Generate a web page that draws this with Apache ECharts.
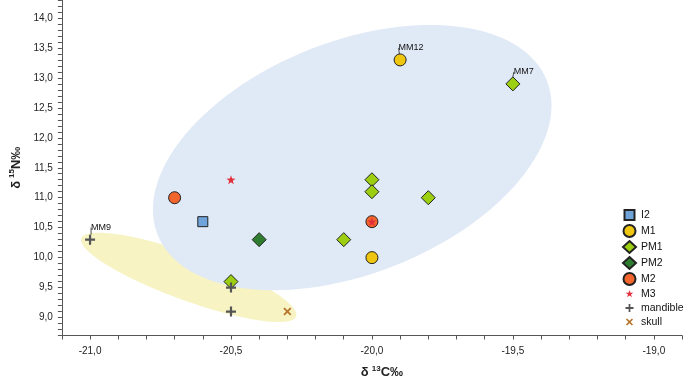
<!DOCTYPE html>
<html>
<head>
<meta charset="utf-8">
<style>
  html, body { margin: 0; padding: 0; background: #fff; }
  #chart { width: 685px; height: 384px; }
</style>
<script src="https://cdn.jsdelivr.net/npm/echarts/dist/echarts.min.js"></script>
</head>
<body>
<div id="chart"></div>
<script>
// 各组数据 [δ13C, δ15N]
var i2 = [[-20.6, 10.6]];
var m1 = [[-19.9, 13.3], [-20.0, 10.0]];
var m1Names = ['MM12', ''];
var pm1 = [[-19.5, 12.9], [-20.0, 11.3], [-20.0, 11.1], [-19.8, 11.0], [-20.1, 10.3], [-20.5, 9.6]];
var pm1Names = ['MM7', '', '', '', '', ''];
var pm2 = [[-20.4, 10.3]];
var m2 = [[-20.7, 11.0], [-20.0, 10.6]];
var m3 = [[-20.5, 11.3], [-20.0, 10.6]];
var mandible = [[-21.0, 10.3], [-20.5, 9.5], [-20.5, 9.1]];
var mandibleNames = ['MM9', '', ''];
var skull = [[-20.3, 9.1]];
// 椭圆区域: 中心x, 中心y, 共轭半径1(x,y), 共轭半径2(x,y)
var ellipseYellow = [-20.65, 9.67, 0.382, -0.623, 0, 0.41];
var ellipseBlue = [-20.07, 11.67, 0.707, 0.869, 0, 2.036];

var FONT = '"Liberation Sans", Arial, sans-serif';
var starPath = 'M10,0L12.35,6.76L19.51,6.91L13.8,11.24L15.88,18.09L10,14L4.12,18.09L6.2,11.24L0.49,6.91L7.65,6.76Z';
var plusPath = 'M3.9,0H6.1V3.9H10V6.1H6.1V10H3.9V6.1H0V3.9H3.9Z';
var crossPath = 'M0,1.6L1.6,0L5,3.4L8.4,0L10,1.6L6.6,5L10,8.4L8.4,10L5,6.6L1.6,10L0,8.4L3.4,5Z';

var myChart = echarts.init(document.getElementById('chart'));

//画椭圆
function ellipseItem(params, api) {
  var cx = api.value(0), cy = api.value(1);
  var ux = api.value(2), uy = api.value(3), vx = api.value(4), vy = api.value(5);
  var pts = [];
  for (var k = 0; k < 120; k++) {
    var t = k / 120 * Math.PI * 2;
    pts.push(api.coord([cx + ux * Math.cos(t) + vx * Math.sin(t), cy + uy * Math.cos(t) + vy * Math.sin(t)]));
  }
  return {
    type: 'polygon',
    shape: { points: pts },
    style: { fill: api.visual('color') }
  };
}

//刻度标签, 只显示0.5的倍数
function tickLabel(v) {
  var r = Math.round(v * 10);
  if (r % 5 !== 0) return '';
  return (r / 10).toFixed(1).replace('.', ',');
}

function pointLabel(names) {
  return {
    show: true,
    position: 'inside',
    fontSize: 9,
    fontFamily: FONT,
    color: '#111',
    formatter: function (p) { return names[p.dataIndex]; }
  };
}

function scatter(name, data, symbol, size, color, border, z) {
  return {
    name: name,
    type: 'scatter',
    data: data,
    symbol: symbol,
    symbolSize: size,
    z: z || 3,
    itemStyle: { color: color, borderColor: border ? '#222' : color, borderWidth: border ? 1 : 0, opacity: 1 },
    emphasis: { disabled: true }
  };
}

var nameRich = {
  d: { fontFamily: FONT, fontWeight: 'bold', fontSize: 13, color: '#222', lineHeight: 16 },
  s: { fontFamily: FONT, fontWeight: 'bold', fontSize: 8, color: '#222', verticalAlign: 'top', lineHeight: 16, padding: [0, 0, 0, 3] }
};

var axisCommon = {
  type: 'value',
  interval: 0.1,
  axisLine: { show: true, onZero: false, lineStyle: { color: '#555', width: 1 } },
  axisTick: { show: true, length: 4, lineStyle: { color: '#555', width: 1 } },
  axisLabel: { formatter: tickLabel, fontSize: 10, fontFamily: FONT, color: '#222', margin: 9 },
  splitLine: { show: false },
  nameLocation: 'middle'
};

var series = [
  { name: 'areaY', type: 'custom', renderItem: ellipseItem, data: [ellipseYellow], z: 1, silent: true,
    itemStyle: { color: '#f7f3c2' }, encode: { x: 0, y: 1 } },
  { name: 'areaB', type: 'custom', renderItem: ellipseItem, data: [ellipseBlue], z: 1, silent: true,
    itemStyle: { color: '#e0e9f6' }, encode: { x: 0, y: 1 } }
];
var sI2 = scatter('I2', i2, 'rect', 10, '#6fa3da', true);
var sM1 = scatter('M1', m1, 'circle', 12, '#efc60f', true);
sM1.label = pointLabel(m1Names);
var sPM1 = scatter('PM1', pm1, 'diamond', 14, '#9ccf12', true);
sPM1.label = pointLabel(pm1Names);
var sPM2 = scatter('PM2', pm2, 'diamond', 14, '#2e7d2e', true);
var sM2 = scatter('M2', m2, 'circle', 12, '#f2652c', true);
var sM3 = scatter('M3', m3, 'path://' + starPath, 9, '#e1303c', false);
var sMand = scatter('mandible', mandible, 'path://' + plusPath, 10, '#555555', false);
sMand.label = pointLabel(mandibleNames);
var sSkull = scatter('skull', skull, 'path://' + crossPath, 8, '#b5762c', false);
var pts = [sI2, sM1, sPM1, sPM2, sM2, sM3, sMand, sSkull];
for (var i = 0; i < pts.length; i++) {
  pts[i].labelLine = { show: true, lineStyle: { color: '#222', width: 0.8 } };
  pts[i].labelLayout = function (p) {
    if (p.text) return { dx: 11, dy: -12 };
  };
  series.push(pts[i]);
}

var option = {
  animation: false,
  backgroundColor: '#fff',
  grid: { left: 60, right: 3, top: 0, bottom: 43 },
  xAxis: echarts.util.merge({
    min: -21.1, max: -18.9,
    name: '{d|δ}{s|13}{d|C‰}',
    nameGap: 29,
    axisLabel: { margin: 11 },
    nameTextStyle: { rich: nameRich, padding: [0, 0, 0, 20] }
  }, axisCommon),
  yAxis: echarts.util.merge({
    min: 8.7, max: 14.3,
    name: '{d|δ}{s|15}{d|N‰}',
    nameGap: 31,
    nameTextStyle: { rich: nameRich }
  }, axisCommon),
  legend: {
    orient: 'vertical',
    left: 617,
    top: 203,
    padding: 5,
    itemWidth: 13,
    itemHeight: 12,
    itemGap: 2,
    textStyle: { fontSize: 10.5, fontFamily: FONT, color: '#111' },
    data: [
      { name: 'I2', icon: 'path://M-1,-1M11,11M0,0H10V10H0Z' },
      { name: 'M1', icon: 'circle' },
      { name: 'PM1', icon: 'diamond' },
      { name: 'PM2', icon: 'diamond' },
      { name: 'M2', icon: 'circle' },
      { name: 'M3', icon: 'path://M-5,-5M25,25' + starPath },
      { name: 'mandible', icon: 'path://M-2.5,-2.5M12.5,12.5' + plusPath },
      { name: 'skull', icon: 'path://M-3.5,-3.5M13.5,13.5' + crossPath }
    ]
  },
  series: series
};
myChart.setOption(option);
</script>
</body>
</html>
